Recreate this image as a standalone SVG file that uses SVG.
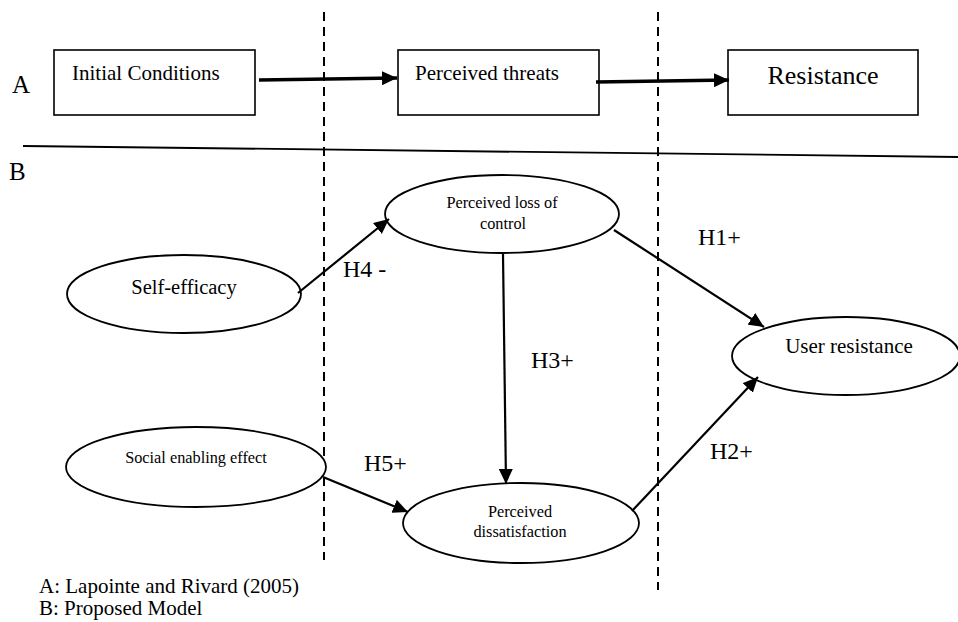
<svg xmlns="http://www.w3.org/2000/svg" width="958" height="622" viewBox="0 0 958 622" font-family="'Liberation Serif', 'DejaVu Serif', serif">
<defs>
<marker id="ah" markerUnits="userSpaceOnUse" markerWidth="16" markerHeight="14" refX="15" refY="7" orient="auto">
<path d="M0,0 L15,7 L0,14 Z" fill="#000"/>
</marker>
<style>
text{font-family:'Liberation Serif','DejaVu Serif',serif;fill:#000}
.box{fill:#fff;stroke:#000;stroke-width:1.6}
.ell{fill:#fff;stroke:#000;stroke-width:1.8}
.dash{stroke:#000;stroke-width:2;stroke-dasharray:9,6;fill:none}
.thick{stroke:#000;stroke-width:3.5;fill:none;marker-end:url(#ah)}
.arr{stroke:#000;stroke-width:2.2;fill:none;marker-end:url(#ah)}
.lbl{font-size:24px}
</style>
</defs>
<rect width="958" height="622" fill="#fff"/>

<g id="dividers">
<line class="dash" x1="324" y1="12" x2="324" y2="560"/>
<line class="dash" x1="658" y1="12" x2="658" y2="590"/>
<line x1="23" y1="146" x2="958" y2="157" stroke="#000" stroke-width="1.8"/>
</g>

<g id="section-labels">
<text x="12" y="93" font-size="25">A</text>
<text x="9" y="180" font-size="25">B</text>
</g>

<g id="initial-conditions">
<rect class="box" x="54" y="50" width="201" height="65"/>
<text x="72" y="80" font-size="21">Initial Conditions</text>
</g>
<g id="perceived-threats">
<rect class="box" x="398" y="50" width="201" height="65"/>
<text x="415" y="80" font-size="21">Perceived threats</text>
</g>
<g id="resistance">
<rect class="box" x="728" y="50" width="190" height="65"/>
<text x="823" y="84" font-size="26" text-anchor="middle">Resistance</text>
</g>

<g id="self-efficacy">
<ellipse class="ell" cx="184" cy="294" rx="117" ry="39"/>
<text x="184" y="294" font-size="20.5" text-anchor="middle">Self-efficacy</text>
</g>
<g id="social-enabling">
<ellipse class="ell" cx="196" cy="467" rx="130" ry="40"/>
<text x="196" y="463" font-size="16.3" text-anchor="middle">Social enabling effect</text>
</g>
<g id="loss-of-control">
<ellipse class="ell" cx="502" cy="214" rx="117" ry="39"/>
<text x="502" y="208" font-size="16.3" text-anchor="middle">Perceived loss of</text>
<text x="503" y="229" font-size="16.3" text-anchor="middle">control</text>
</g>
<g id="dissatisfaction">
<ellipse class="ell" cx="521" cy="523" rx="118" ry="40"/>
<text x="520" y="517" font-size="16.3" text-anchor="middle">Perceived</text>
<text x="520" y="537" font-size="16.3" text-anchor="middle">dissatisfaction</text>
</g>
<g id="user-resistance">
<ellipse class="ell" cx="846" cy="356" rx="114" ry="39"/>
<text x="849" y="353" font-size="21" text-anchor="middle">User resistance</text>
</g>

<g id="connectors">
<line class="thick" x1="259" y1="80" x2="397" y2="78"/>
<line class="thick" x1="596" y1="82" x2="729" y2="80"/>
<line class="arr" x1="298" y1="293" x2="389" y2="219"/>
<line class="arr" x1="503" y1="254" x2="506" y2="484"/>
<line class="arr" x1="614" y1="230" x2="764" y2="327"/>
<line class="arr" x1="632" y1="511" x2="758" y2="377"/>
<line class="arr" x1="323" y1="477" x2="408" y2="512"/>
</g>

<g id="connector-labels">
<text class="lbl" x="343" y="277">H4 -</text>
<text class="lbl" x="698" y="245">H1+</text>
<text class="lbl" x="531" y="368">H3+</text>
<text class="lbl" x="710" y="459">H2+</text>
<text class="lbl" x="364" y="471">H5+</text>
</g>

<g id="legend">
<text x="39" y="593" font-size="21">A: Lapointe and Rivard (2005)</text>
<text x="39" y="615" font-size="21">B: Proposed Model</text>
</g>
</svg>
